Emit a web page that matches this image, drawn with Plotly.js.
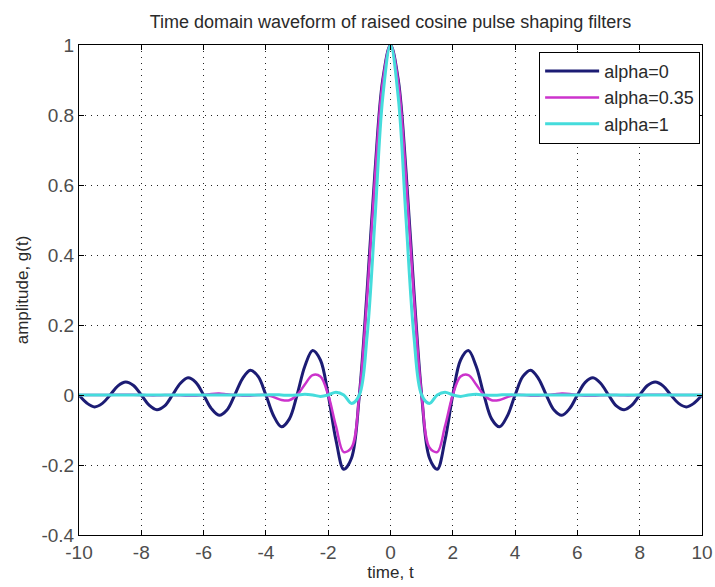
<!DOCTYPE html>
<html>
<head>
<meta charset="utf-8">
<script src="https://cdn.plot.ly/plotly-3.0.1.min.js"></script>
<style>
  html, body { margin: 0; padding: 0; background: #fff; }
  #chart { width: 715px; height: 587px; }
</style>
</head>
<body>
<div id="chart"></div>
<script>
// time samples, t
const timeT = [-10,-9.75,-9.5,-9.25,-9,-8.75,-8.5,-8.25,-8,-7.75,-7.5,-7.25,-7,-6.75,-6.5,-6.25,-6,-5.75,-5.5,-5.25,-5,-4.75,-4.5,-4.25,-4,-3.75,-3.5,-3.25,-3,-2.75,-2.5,-2.25,-2,-1.75,-1.5,-1.25,-1,-0.75,-0.5,-0.25,0,0.25,0.5,0.75,1,1.25,1.5,1.75,2,2.25,2.5,2.75,3,3.25,3.5,3.75,4,4.25,4.5,4.75,5,5.25,5.5,5.75,6,6.25,6.5,6.75,7,7.25,7.5,7.75,8,8.25,8.5,8.75,9,9.25,9.5,9.75,10];

// amplitude g(t) for roll-off alpha = 0
const gAlpha0 = [0,-0.023,-0.034,-0.024,0,0.026,0.037,0.027,0,-0.029,-0.042,-0.031,0,0.033,0.049,0.036,0,-0.039,-0.058,-0.043,0,0.047,0.071,0.053,0,-0.060,-0.091,-0.069,0,0.082,0.127,0.100,0,-0.129,-0.212,-0.180,0,0.300,0.637,0.900,
  1.000,0.900,0.637,0.300,0,-0.180,-0.212,-0.129,0,0.100,0.127,0.082,0,-0.069,-0.091,-0.060,0,0.053,0.071,0.047,0,-0.043,-0.058,-0.039,0,0.036,0.049,0.033,0,-0.031,-0.042,-0.029,0,0.027,0.037,0.026,0,-0.024,-0.034,-0.023,0];

// amplitude g(t) for roll-off alpha = 0.35
const gAlpha035 = [0,0,0,0,0,0.001,0.001,0.001,0,-0.001,-0.001,0,0,-0.001,-0.002,-0.002,0,0.003,0.004,0.002,0,-0.002,-0.002,0,0,-0.006,-0.014,-0.015,0,0.030,0.057,0.053,0,-0.089,-0.163,-0.150,0,0.281,0.619,0.894,
  1.000,0.894,0.619,0.281,0,-0.150,-0.163,-0.089,0,0.053,0.057,0.030,0,-0.015,-0.014,-0.006,0,0,-0.002,-0.002,0,0.002,0.004,0.003,0,-0.002,-0.002,-0.001,0,0,-0.001,-0.001,0,0.001,0.001,0.001,0,0,0,0,0];

// amplitude g(t) for roll-off alpha = 1
const gAlpha1 = [0,0,0,0,0,0,0,0,0,0,0,0,0,0,0,0,0,0,0,0,0,0,0,0,0,0.001,0,-0.001,0,0.002,0,-0.004,0,0.008,0,-0.024,0,0.170,0.500,0.849,
  1.000,0.849,0.500,0.170,0,-0.024,0,0.008,0,-0.004,0,0.002,0,-0.001,0,0.001,0,0,0,0,0,0,0,0,0,0,0,0,0,0,0,0,0,0,0,0,0,0,0,0,0];

const seriesNames = ['alpha=0', 'alpha=0.35', 'alpha=1'];

const xTickVals = [-10,-8,-6,-4,-2,0,2,4,6,8,10];
const xTickText = ['-10','-8','-6','-4','-2','0','2','4','6','8','10'];
const yTickVals = [-0.4,-0.2,0,0.2,0.4,0.6,0.8,1];
const yTickText = ['-0.4','-0.2','0','0.2','0.4','0.6','0.8','1'];

const FONT = 'Liberation Sans, Arial, sans-serif';

const traces = [
  { x: timeT, y: gAlpha0,   name: seriesNames[0], mode: 'lines',
    line: { color: '#1c1c74', width: 3, shape: 'spline', smoothing: 1 } },
  { x: timeT, y: gAlpha035, name: seriesNames[1], mode: 'lines',
    line: { color: '#cc33cc', width: 2.5, shape: 'spline', smoothing: 1 } },
  { x: timeT, y: gAlpha1,   name: seriesNames[2], mode: 'lines',
    line: { color: '#45dcdc', width: 3, shape: 'spline', smoothing: 1 } }
];

const axisCommon = {
  showline: true, linecolor: '#000', linewidth: 1, mirror: 'ticks',
  ticks: 'inside', ticklen: 5, tickcolor: '#000', tickwidth: 1,
  showgrid: true, gridcolor: '#222', gridwidth: 1, griddash: '1px,5px',
  zeroline: false,
  tickfont: { family: FONT, size: 19, color: '#4d4d4d' }
};

const layout = {
  width: 715, height: 587,
  paper_bgcolor: '#fff', plot_bgcolor: '#fff',
  margin: { l: 79, r: 13, t: 45, b: 52 },
  title: {
    text: 'Time domain waveform of raised cosine pulse shaping filters',
    font: { family: FONT, size: 18, color: '#2a2a2a' },
    x: 0.5, xref: 'paper', y: 1 - 22 / 587, yref: 'container', yanchor: 'middle'
  },
  xaxis: Object.assign({}, axisCommon, {
    range: [-10, 10], tickmode: 'array', tickvals: xTickVals, ticktext: xTickText,
    title: { text: 'time, t', font: { family: FONT, size: 17, color: '#2a2a2a' }, standoff: 4 }
  }),
  yaxis: Object.assign({}, axisCommon, {
    range: [-0.4, 1], tickmode: 'array', tickvals: yTickVals, ticktext: yTickText,
    title: { text: 'amplitude, g(t)', font: { family: FONT, size: 17, color: '#2a2a2a' }, standoff: 8 }
  }),
  showlegend: true,
  legend: {
    x: 0.997, xanchor: 'right', y: 0.986, yanchor: 'top',
    bgcolor: '#fff', bordercolor: '#000', borderwidth: 1,
    font: { family: FONT, size: 18, color: '#2a2a2a' },
    itemwidth: 54,
    entrywidth: 180
  }
};

Plotly.newPlot('chart', traces, layout, { displayModeBar: false, staticPlot: true });
</script>
</body>
</html>
